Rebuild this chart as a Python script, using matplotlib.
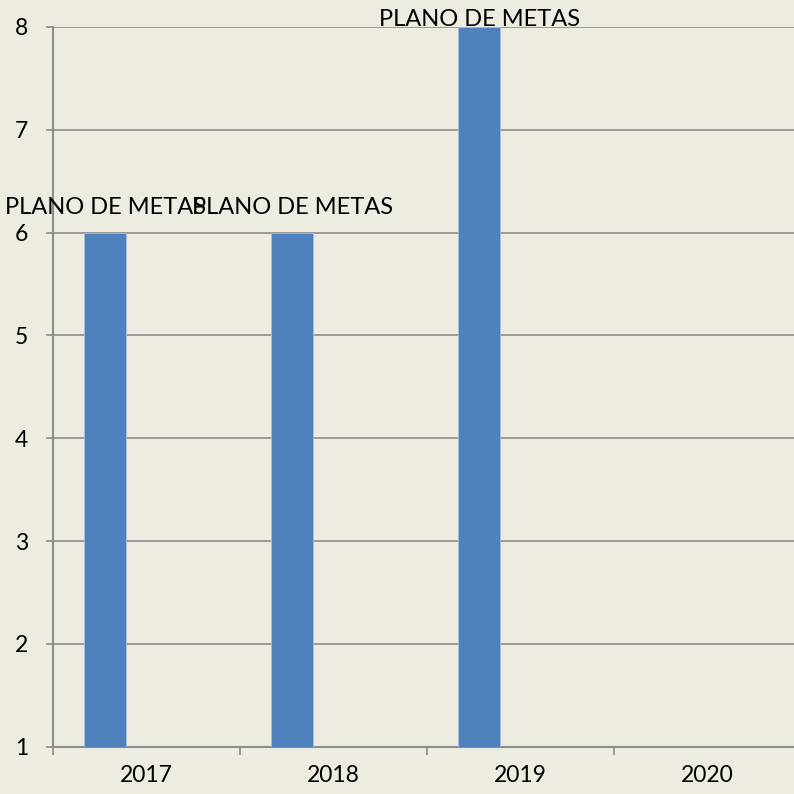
import numpy as np
import matplotlib.pyplot as plt
from matplotlib.ticker import FixedLocator

'''
Barras "PLANO DE METAS" por ano, estilo planilha.
'''
years = ['2017', '2018', '2019', '2020']
values = [6, 6, 8, None]
labels = ['PLANO DE METAS', 'PLANO DE METAS', 'PLANO DE METAS', '']
yticks = [1, 2, 3, 4, 5, 6, 7, 8]

bg = '#EEEBE1'
bar_color = '#4F81BD'
axis_gray = '#8C8C8C'

plt.rcParams['font.family'] = ['Lato', 'DejaVu Sans']

fig = plt.figure(figsize=(7.94, 7.94), dpi=100, facecolor=bg)
ax = fig.add_axes([0.0668, 0.0596, 0.9420, 0.9064])
ax.set_facecolor(bg)

x = np.arange(len(years))
bar_w = 0.222
offset = -0.221
for xi, v, lab in zip(x, values, labels):
    if v is None:
        continue
    ax.bar(xi + offset, v - 1, bottom=1, width=bar_w, color=bar_color,
           edgecolor='#A8C0DE', linewidth=0.6, zorder=3)
    # label above bar, kept inside the chart area at the top
    dy = 0.7 if v >= yticks[-1] else 13.7
    ax.annotate(lab, (xi + offset, v), xytext=(0, dy), textcoords='offset points',
                ha='center', va='baseline', fontsize=17, color='black',
                annotation_clip=False)

ax.set_xlim(-0.5, len(years) - 0.5)
ax.set_ylim(1, 8)
ax.set_yticks(yticks)
ax.yaxis.grid(True, color=axis_gray, linewidth=1.2, zorder=0)

ax.set_xticks(x)
ax.set_xticklabels(years, fontsize=16.5)
ax.xaxis.set_minor_locator(FixedLocator(np.arange(-0.5, len(years), 1.0)))
ax.tick_params(axis='x', which='major', length=0, pad=13)
ax.tick_params(axis='x', which='minor', length=6, width=1.2, color=axis_gray)
ax.tick_params(axis='y', length=5, width=1.2, color=axis_gray, labelsize=16.5, pad=13)

for side in ['top', 'right']:
    ax.spines[side].set_visible(False)
for side in ['left', 'bottom']:
    ax.spines[side].set_color(axis_gray)
    ax.spines[side].set_linewidth(1.5)

fig.savefig('out.png', dpi=100, facecolor=bg)
